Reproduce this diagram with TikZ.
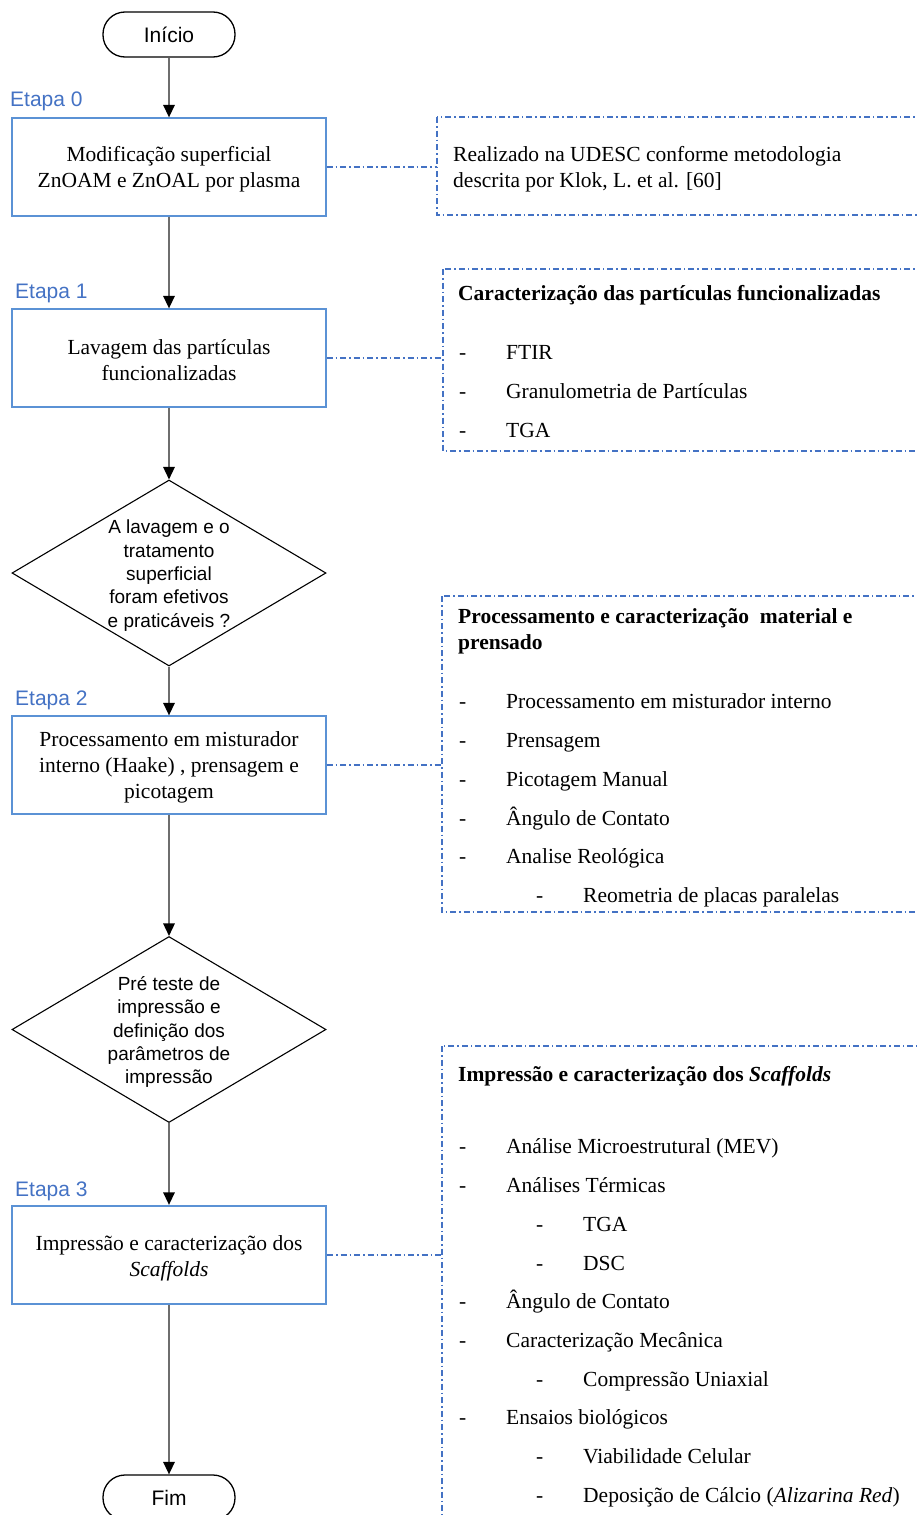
\documentclass[tikz,border=0pt]{standalone}
\usepackage{fontspec}
\setmainfont{Liberation Serif}
\setsansfont{Liberation Sans}
\usetikzlibrary{shapes.geometric,arrows.meta}
\definecolor{lblue}{RGB}{68,114,196}
\definecolor{bblue}{RGB}{91,146,213}
\definecolor{agray}{RGB}{110,110,110}
\tikzset{
  proc/.style={draw=bblue, line width=1.3pt, minimum width=314pt, minimum height=98pt, inner sep=0pt},
  ptext/.style={align=center, inner sep=0pt, font=\fontsize{21.5}{26}\selectfont},
  term/.style={draw=black, line width=1.3pt, rounded corners=22pt, minimum width=132pt, minimum height=45pt, inner sep=0pt, font=\sffamily\fontsize{21}{25}\selectfont},
  decis/.style={diamond, draw=black, line width=1.1pt, minimum width=314pt, minimum height=186pt, aspect=1.69, inner sep=0pt},
  dtext/.style={align=center, inner sep=0pt, font=\sffamily\fontsize{19}{23.3}\selectfont},
  etapa/.style={anchor=base west, text=lblue, inner sep=0pt, font=\sffamily\fontsize{21}{25}\selectfont},
  flow/.style={draw=agray, line width=1.5pt, -{Triangle[length=12.5pt,width=11.5pt,black]}},
  dd/.style={draw=lblue, line width=1.2pt, dash pattern=on 6pt off 3pt on 1.5pt off 3pt},
  itm/.style={anchor=base west, inner sep=0pt, font=\fontsize{21.5}{26}\selectfont},
}
\begin{document}
\begin{tikzpicture}[x=1pt,y=-1pt]
\useasboundingbox (0,0) rectangle (916,1515);

% main flow
\node[term] (inicio) at (169,34.5) {Início};
\node[etapa] (e0) at (10,106) {Etapa 0};
\node[proc] (b0) at (169,167) {};
\node[ptext] (b0t) at ([yshift=-2.5pt]b0.center) {Modificação superficial\\ZnOAM e ZnOAL por plasma};
\node[etapa] (e1) at (15,298) {Etapa 1};
\node[proc] (b1) at (169,358) {};
\node[ptext] (b1t) at ([yshift=-2.5pt]b1.center) {Lavagem das partículas\\funcionalizadas};
\node[decis] (q1) at (169,573) {};
\node[dtext] (q1t) at ([yshift=-2.5pt]q1.center) {A lavagem e o\\tratamento\\superficial\\foram efetivos\\e praticáveis ?};
\node[etapa] (e2) at (15,705) {Etapa 2};
\node[proc] (b2) at (169,765) {};
\node[ptext] (b2t) at ([yshift=-2.5pt]b2.center) {Processamento em misturador\\interno (Haake) , prensagem e\\picotagem};
\node[decis] (q2) at (169,1029.5) {};
\node[dtext] (q2t) at ([yshift=-2.5pt]q2.center) {Pré teste de\\impressão e\\definição dos\\parâmetros de\\impressão};
\node[etapa] (e3) at (15,1196) {Etapa 3};
\node[proc, line width=2.3pt] (b3) at (169,1255) {};
\node[ptext] (b3t) at ([yshift=-3.5pt]b3.center) {Impressão e caracterização dos\\\textit{Scaffolds}};
\node[term] (fim) at (169,1497.5) {Fim};

\draw[flow] (inicio) -- (b0);
\draw[flow] (b0) -- (b1);
\draw[flow] (b1) -- (q1);
\draw[flow] (q1) -- (b2);
\draw[flow] (b2) -- (q2);
\draw[flow] (q2) -- (b3);
\draw[flow] (b3) -- (fim);

% dashed note boxes
\draw[dd] (437,117) rectangle (940,215);
\coordinate (n0) at (437,167);
\draw[dd] (b0.east) -- (n0);
\node[itm] (r0a) at (453,161) {Realizado na UDESC conforme metodologia};
\node[itm] (r0b) at (453,187) {descrita por Klok, L. et al. [60]};

\draw[dd] (443,269) rectangle (940,451);
\coordinate (n1) at (443,358);
\draw[dd] (b1.east) -- (n1);
\node[itm] (r1t) at (458,300) {\textbf{Caracterização das partículas funcionalizadas}};
\node[itm] (r1d1) at (459,359) {-};
\node[itm] (r1a) at (506,359) {FTIR};
\node[itm] (r1d2) at (459,398) {-};
\node[itm] (r1b) at (506,398) {Granulometria de Partículas};
\node[itm] (r1d3) at (459,437) {-};
\node[itm] (r1c) at (506,437) {TGA};

\draw[dd] (442,596) rectangle (940,912);
\coordinate (n2) at (442,765);
\draw[dd] (b2.east) -- (n2);
\node[itm] (r2t1) at (458,623) {\textbf{Processamento e caracterização\ \ material e}};
\node[itm] (r2t2) at (458,649) {\textbf{prensado}};
\node[itm] (r2d1) at (459,708) {-};
\node[itm] (r2a) at (506,708) {Processamento em misturador interno};
\node[itm] (r2d2) at (459,747) {-};
\node[itm] (r2b) at (506,747) {Prensagem};
\node[itm] (r2d3) at (459,786) {-};
\node[itm] (r2c) at (506,786) {Picotagem Manual};
\node[itm] (r2d4) at (459,825) {-};
\node[itm] (r2e) at (506,825) {Ângulo de Contato};
\node[itm] (r2d5) at (459,863) {-};
\node[itm] (r2f) at (506,863) {Analise Reológica};
\node[itm] (r2d6) at (536,902) {-};
\node[itm] (r2g) at (583,902) {Reometria de placas paralelas};

\draw[dd] (442,1046) rectangle (940,1580);
\coordinate (n3) at (442,1255);
\draw[dd] (b3.east) -- (n3);
\node[itm] (r3t) at (458,1081) {\textbf{Impressão e caracterização dos \textit{Scaffolds}}};
\node[itm] (r3d1) at (459,1153) {-};
\node[itm] (r3a) at (506,1153) {Análise Microestrutural (MEV)};
\node[itm] (r3d2) at (459,1192) {-};
\node[itm] (r3b) at (506,1192) {Análises Térmicas};
\node[itm] (r3d3) at (536,1231) {-};
\node[itm] (r3c) at (583,1231) {TGA};
\node[itm] (r3d4) at (536,1270) {-};
\node[itm] (r3d) at (583,1270) {DSC};
\node[itm] (r3d5) at (459,1308) {-};
\node[itm] (r3e) at (506,1308) {Ângulo de Contato};
\node[itm] (r3d6) at (459,1347) {-};
\node[itm] (r3f) at (506,1347) {Caracterização Mecânica};
\node[itm] (r3d7) at (536,1386) {-};
\node[itm] (r3g) at (583,1386) {Compressão Uniaxial};
\node[itm] (r3d8) at (459,1424) {-};
\node[itm] (r3h) at (506,1424) {Ensaios biológicos};
\node[itm] (r3d9) at (536,1463) {-};
\node[itm] (r3i) at (583,1463) {Viabilidade Celular};
\node[itm] (r3d10) at (536,1502) {-};
\node[itm] (r3j) at (583,1502) {Deposição de Cálcio (\textit{Alizarina Red})};
\end{tikzpicture}
\end{document}
